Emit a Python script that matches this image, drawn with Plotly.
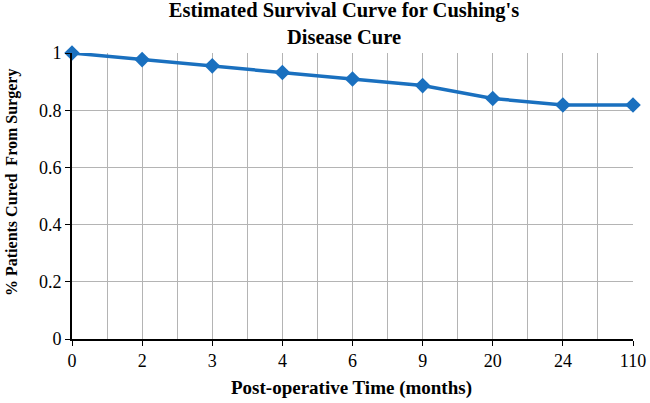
import plotly.graph_objects as go

time_labels = ["0", "2", "3", "4", "6", "9", "20", "24", "110"]
cured_fraction = [1.0, 0.977, 0.955, 0.932, 0.909, 0.886, 0.841, 0.818, 0.818]
y_ticks = [0, 0.2, 0.4, 0.6, 0.8, 1]
y_tick_labels = ["0", "0.2", "0.4", "0.6", "0.8", "1"]

positions = list(range(len(time_labels)))
half_positions = [p + 0.5 for p in positions[:-1]]

blue = "#1a70bf"
grid = "#b4b4b4"
serif = "Liberation Serif, Times New Roman, serif"

fig = go.Figure()
fig.add_trace(go.Scatter(
    x=positions, y=cured_fraction, mode="lines+markers",
    line=dict(color=blue, width=3.5),
    marker=dict(symbol="diamond", size=12, color=blue),
    cliponaxis=False, showlegend=False,
))

fig.update_layout(
    width=650, height=403,
    margin=dict(l=72, r=17, t=53, b=64, autoexpand=False),
    paper_bgcolor="white", plot_bgcolor="white",
    font=dict(family=serif, color="black", size=18),
    title=dict(
        text="<b>Estimated Survival Curve for Cushing's<br>Disease Cure</b>",
        x=344 / 650, xanchor="center", xref="container",
        y=1 - 17 / 403, yanchor="top", yref="container",
        font=dict(family=serif, size=20.5, color="black"),
    ),
    annotations=[
        dict(text="<b>Post-operative Time (months)</b>",
             xref="paper", yref="paper", x=(351 - 72) / 561, y=-(388 - 339) / 286,
             xanchor="center", yanchor="middle", showarrow=False,
             font=dict(family=serif, size=19, color="black")),
        dict(text="<b>% Patients Cured  From Surgery</b>", textangle=-90,
             xref="paper", yref="paper", x=-(72 - 12) / 561, y=(339 - 183) / 286,
             xanchor="center", yanchor="middle", showarrow=False,
             font=dict(family=serif, size=16, color="black")),
    ],
)
fig.update_xaxes(
    range=[0, len(time_labels) - 1], automargin=False,
    tickmode="array", tickvals=positions, ticktext=time_labels,
    showgrid=True, gridcolor=grid, gridwidth=1.3,
    minor=dict(tickmode="array", tickvals=half_positions, showgrid=True,
               gridcolor=grid, gridwidth=1.3, ticks=""),
    showline=True, linecolor="black", linewidth=1.6,
    ticks="outside", ticklen=5, tickcolor="black", tickwidth=1.3,
    tickfont=dict(family=serif, size=18),
    zeroline=False,
)
fig.update_yaxes(
    range=[0, 1], automargin=False,
    tickmode="array", tickvals=y_ticks, ticktext=y_tick_labels,
    showgrid=True, gridcolor=grid, gridwidth=1.3,
    showline=True, linecolor="black", linewidth=1.6,
    ticks="outside", ticklen=5, tickcolor="black", tickwidth=1.3,
    tickfont=dict(family=serif, size=18),
    zeroline=False,
)

fig.write_html("out.html", config={"displayModeBar": False},
               post_script="document.body.style.margin='0';")
